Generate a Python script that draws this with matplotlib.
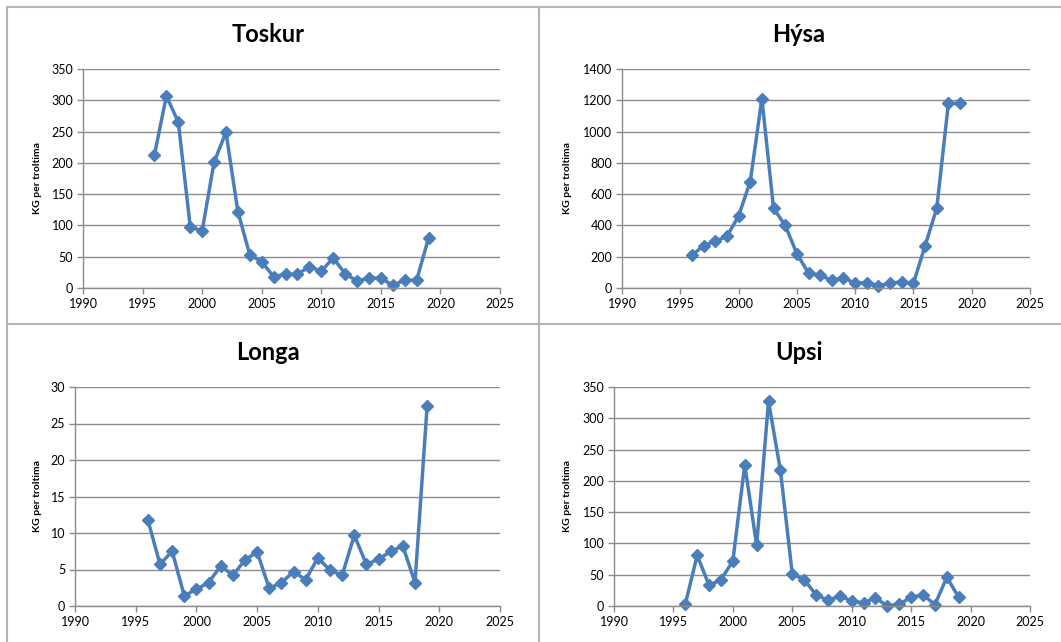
import matplotlib
matplotlib.use('Agg')
import matplotlib.pyplot as plt
from matplotlib.lines import Line2D

plt.rcParams['font.family'] = ['Lato', 'DejaVu Sans']

years = list(range(1996, 2020))

toskur = [213, 307, 265, 98, 91, 201, 249, 122, 53, 42, 18, 22,
          22, 34, 27, 48, 23, 11, 16, 16, 4, 13, 12, 80]
hysa = [210, 270, 300, 330, 460, 680, 1210, 510, 400, 220, 95, 80,
        50, 65, 30, 35, 15, 30, 40, 30, 270, 510, 1180, 1180]
longa = [11.8, 5.7, 7.5, 1.4, 2.3, 3.2, 5.5, 4.2, 6.3, 7.4, 2.4, 3.2,
         4.7, 3.6, 6.6, 4.9, 4.2, 9.7, 5.7, 6.4, 7.5, 8.2, 3.2, 27.4]
upsi = [3, 81, 33, 42, 72, 226, 97, 327, 217, 51, 42, 18,
        9, 16, 8, 5, 13, 0, 3, 14, 18, 2, 46, 14]

titles = ['Toskur', 'Hýsa', 'Longa', 'Upsi']
series = [toskur, hysa, longa, upsi]
ymaxes = [350, 1400, 30, 350]
ysteps = [50, 200, 5, 50]
xticks = [1990, 1995, 2000, 2005, 2010, 2015, 2020, 2025]

W, H = 1061, 642
fig = plt.figure(figsize=(W / 100, H / 100), dpi=100)

# plot areas in pixels: left, right, top, bottom
boxes = [(83, 500, 69, 288), (622, 1030, 69, 288),
         (75, 500, 387, 606), (614, 1030, 387, 606)]
title_pos = [(268, 35), (799, 35), (268, 353), (799, 353)]
ylabel_x = [37, 567, 37, 567]

blue = '#4a7ebb'
grid = '#8c8c8c'

for i in range(4):
    l, r, t, b = boxes[i]
    ax = fig.add_axes([l / W, 1 - b / H, (r - l) / W, (b - t) / H])
    ax.plot(years, series[i], color=blue, lw=2.5, marker='D',
            markersize=6.5, markeredgecolor=blue, markerfacecolor=blue,
            clip_on=False)
    ax.set_xlim(1990, 2025)
    ax.set_ylim(0, ymaxes[i])
    ax.set_xticks(xticks)
    ax.set_yticks(range(0, ymaxes[i] + 1, ysteps[i]))
    ax.grid(axis='y', color=grid, lw=1)
    ax.set_axisbelow(True)
    for s in ['top', 'right']:
        ax.spines[s].set_visible(False)
    for s in ['left', 'bottom']:
        ax.spines[s].set_color(grid)
        ax.spines[s].set_linewidth(1)
    ax.tick_params(length=4, width=1, color=grid, labelsize=9, pad=3)
    fig.text(title_pos[i][0] / W, 1 - title_pos[i][1] / H, titles[i],
             ha='center', va='center', fontsize=17, fontweight='bold')
    fig.text(ylabel_x[i] / W, 1 - ((t + b) / 2) / H, 'KG per troltima',
             rotation=90, ha='center', va='center', fontsize=7.5,
             fontweight='bold')

# panel borders
border = '#b4b4b4'
fig.add_artist(Line2D([7 / W, 1], [1 - 6.5 / H, 1 - 6.5 / H],
                      color=border, lw=1.5, transform=fig.transFigure))
fig.add_artist(Line2D([7 / W, 7 / W], [0, 1 - 6.5 / H],
                      color=border, lw=1.5, transform=fig.transFigure))
fig.add_artist(Line2D([538.5 / W, 538.5 / W], [0, 1 - 6.5 / H],
                      color=border, lw=1.5, transform=fig.transFigure))
fig.add_artist(Line2D([7 / W, 1], [1 - 323.5 / H, 1 - 323.5 / H],
                      color=border, lw=1.5, transform=fig.transFigure))

fig.savefig('out.png', dpi=100)
